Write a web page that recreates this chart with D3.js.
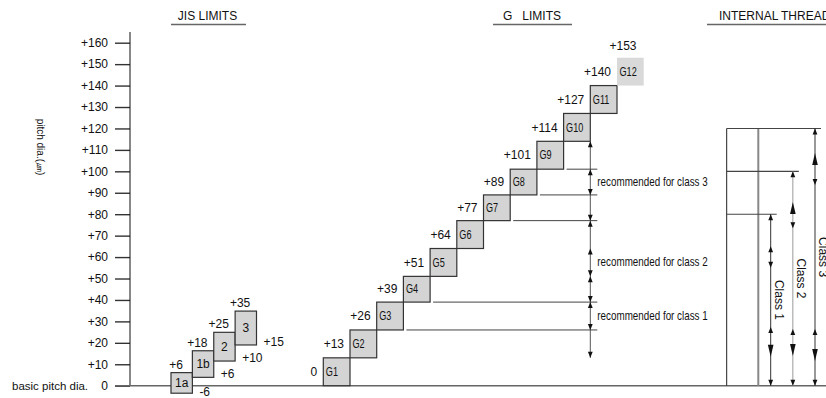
<!DOCTYPE html>
<html><head><meta charset="utf-8">
<script src="https://cdn.jsdelivr.net/npm/d3@7"></script>
<style>
html,body{margin:0;padding:0;background:#fff;}
svg{display:block;font-family:"Liberation Sans",Arial,Helvetica,sans-serif;}
</style></head><body>
<svg id="c" width="826" height="398"></svg>
<script>
// ---------- data ----------
const yTicks = [0,10,20,30,40,50,60,70,80,90,100,110,120,130,140,150,160];
const yTickLabels = ["0","+10","+20","+30","+40","+50","+60","+70","+80","+90","+100","+110","+120","+130","+140","+150","+160"];
const headers = ["JIS LIMITS","G   LIMITS","INTERNAL THREAD"];

const jisNames = ["1a","1b","2","3"];
const jisUpperLabels = ["+6","+18","+25","+35"];
const jisLowerLabels = ["-6","+6","+10","+15"];
// box extents as drawn in the (schematic) picture, in µm on the axis
const jisUpperDrawn = [6.1,16.3,24.9,34.8];
const jisLowerDrawn = [-3.5,3.9,11.5,19.0];

const gNames = ["G1","G2","G3","G4","G5","G6","G7","G8","G9","G10","G11","G12"];
const gLower = [0,13,26,39,51,64,77,89,101,114,127,140];
const gUpper = [13,26,39,51,64,77,89,101,114,127,140,153];
const gLowerLabels = ["0","+13","+26","+39","+51","+64","+77","+89","+101","+114","+127","+140"];
const gTopLabel = "+153";

const recTexts = ["recommended for class 1","recommended for class 2","recommended for class 3"];
const recLow = [26,39,89];
const recHigh = [39,77,101];
const gDimRange = [114,13];
const gDimArrows = [[114,"up"],[101,"up"],[89,"down"],[77,"down"],[77,"up"],[64,"up"],[51,"down"],[51,"up"],[39,"down"],[39,"up"],[26,"down"],[13,"down"]];

const intClasses = ["Class 1","Class 2","Class 3"];
const intUpper = [80,100,120];
// arrow marks along each class dimension line: [value, direction, big]
const intArrows = [
  [[80,"up",0],[65,"up",0],[55,"down",0],[27.4,"up",0],[13.5,"down",1],[0,"down",0]],
  [[100,"up",0],[85.7,"up",1],[73.5,"down",0],[26.4,"up",0],[13.9,"down",1],[0,"down",0]],
  [[120,"up",0],[108.5,"up",1],[93.6,"down",0],[26.4,"up",0],[11.5,"down",1],[0,"down",0]]
];

// ---------- drawing ----------
const svg = d3.select("#c");
const FONT = '"Liberation Sans",Arial,Helvetica,sans-serif';
const y = d3.scaleLinear().domain([0,160]).range([385.7,42.7]);
const axisX = 130;

// axis
const ax = svg.append("g").attr("transform",`translate(${axisX},0)`)
  .call(d3.axisLeft(y).tickValues(yTicks).tickFormat((d,i)=>yTickLabels[i])
    .tickSize(15).tickPadding(7).tickSizeOuter(0));
ax.attr("font-family",FONT).attr("font-size",12);
ax.select(".domain").remove();
ax.selectAll(".tick line").attr("stroke","#333").attr("stroke-width",1.4);
ax.selectAll(".tick text").attr("fill","#111");
svg.append("line").attr("x1",axisX).attr("x2",axisX).attr("y1",32).attr("y2",y(0))
  .attr("stroke","#111").attr("stroke-width",1);

// baseline
svg.append("line").attr("x1",115).attr("x2",826).attr("y1",y(0)).attr("y2",y(0))
  .attr("stroke","#666").attr("stroke-width",1.6);

svg.append("text").attr("x",12).attr("y",y(0)).attr("dy","0.35em")
  .attr("font-size",11.5).attr("fill","#111").text("basic pitch dia.");

svg.append("text").attr("transform",`translate(36.5,147) rotate(90)`)
  .attr("text-anchor","middle").attr("font-size",10).attr("fill","#111")
  .text("pitch dia.(\u339B)");

// headers
const hdr = [
  {x1:171,x2:246,tx:207.5,anchor:"middle"},
  {x1:493,x2:572,tx:532,anchor:"middle"},
  {x1:707,x2:830,tx:719,anchor:"start"}
];
headers.forEach((h,i)=>{
  svg.append("text").attr("x",hdr[i].tx).attr("y",20).attr("text-anchor",hdr[i].anchor)
    .attr("font-size",12).attr("fill","#111").style("white-space","pre").text(h);
  svg.append("line").attr("x1",hdr[i].x1).attr("x2",hdr[i].x2).attr("y1",24.5).attr("y2",24.5)
    .attr("stroke","#666").attr("stroke-width",1.5);
});

function narrowText(g,x,yy,str,size,anchor,sx){
  g.append("text").attr("transform",`translate(${x},${yy}) scale(${sx||0.82},1)`)
    .attr("dy","0.35em").attr("text-anchor",anchor||"start")
    .attr("font-size",size).attr("fill","#111").text(str);
}
function arrow(g,x,v,dir,big){
  const ty=y(v), w=big?2.8:2.4, h=big?12:6, s=dir==="up"?1:-1;
  g.append("path").attr("d",`M${x},${ty}L${x-w},${ty+s*h}L${x+w},${ty+s*h}Z`).attr("fill","#111");
}

// JIS boxes
const xJ = d3.scaleBand().domain(jisNames).range([171,256.5]);
const gJ = svg.append("g");
jisNames.forEach((n,i)=>{
  const x0=xJ(n), bw=xJ.bandwidth(), yt=y(jisUpperDrawn[i]), yb=y(jisLowerDrawn[i]);
  gJ.append("rect").attr("x",x0).attr("y",yt).attr("width",bw).attr("height",yb-yt)
    .attr("fill","#d4d4d4").attr("stroke","#333").attr("stroke-width",1.2);
  gJ.append("text").attr("x",x0+bw/2).attr("y",(yt+yb)/2).attr("dy","0.35em")
    .attr("text-anchor","middle").attr("font-size",12).attr("fill","#111").text(n);
  gJ.append("text").attr("x",x0+5).attr("y",yt-4).attr("text-anchor","middle")
    .attr("font-size",12).attr("fill","#111").text(jisUpperLabels[i]);
  gJ.append("text").attr("x",x0+bw+7).attr("y",yb+(jisLowerDrawn[i]<0?3:1)).attr("text-anchor","start")
    .attr("font-size",12).attr("fill","#111").text(jisLowerLabels[i]);
});

// G boxes
const xG = d3.scaleBand().domain(gNames).range([323.3,643.7]);
const gG = svg.append("g");
gNames.forEach((n,i)=>{
  const x0=xG(n), bw=xG.bandwidth(), yt=y(gUpper[i]), yb=y(gLower[i]);
  const last = i===gNames.length-1;
  gG.append("rect").attr("x",x0).attr("y",yt).attr("width",bw).attr("height",yb-yt)
    .attr("fill",last?"#d9d9d9":"#d4d4d4").attr("stroke",last?"none":"#333").attr("stroke-width",1.2);
  narrowText(gG,x0+2.5,(yt+yb)/2,n,12,"start",0.76);
  gG.append("text").attr("x",x0-6).attr("y",(yt+yb)/2).attr("dy","0.35em").attr("text-anchor","end")
    .attr("font-size",12).attr("fill","#111").text(gLowerLabels[i]);
  if(last){
    gG.append("text").attr("x",x0+6).attr("y",yt-8).attr("text-anchor","middle")
      .attr("font-size",12).attr("fill","#111").text(gTopLabel);
  }
});

// G dimension line + recommended ranges
const dimX = xG("G10")+xG.bandwidth();
const gD = svg.append("g");
gD.append("line").attr("x1",dimX).attr("x2",dimX).attr("y1",y(gDimRange[0])).attr("y2",y(gDimRange[1]))
  .attr("stroke","#555").attr("stroke-width",1);
const extLevels = Array.from(new Set(recLow.concat(recHigh))).sort((a,b)=>a-b);
extLevels.forEach(v=>{
  const idx = gLower.indexOf(v);
  const xs = xG(gNames[idx])+xG.bandwidth()+3;
  gD.append("line").attr("x1",xs).attr("x2",dimX+7).attr("y1",y(v)).attr("y2",y(v))
    .attr("stroke","#444").attr("stroke-width",1);
});
gDimArrows.forEach(a=>arrow(gD,dimX,a[0],a[1],0));
recTexts.forEach((t,i)=>narrowText(gD,dimX+7,y((recLow[i]+recHigh[i])/2),t,12,"start"));

// internal thread
const gI = svg.append("g");
const rectL = 726.7, rectR = 758.3;
const xC = d3.scalePoint().domain(intClasses).range([770.7,815]);
gI.append("line").attr("x1",rectL).attr("x2",rectL).attr("y1",y(d3.max(intUpper))).attr("y2",y(0))
  .attr("stroke","#222").attr("stroke-width",1);
gI.append("line").attr("x1",rectR).attr("x2",rectR).attr("y1",y(d3.max(intUpper))).attr("y2",y(0))
  .attr("stroke","#888").attr("stroke-width",2);
intClasses.forEach((c,i)=>{
  const cx = xC(c);
  gI.append("line").attr("x1",rectL).attr("x2",cx+6).attr("y1",y(intUpper[i])).attr("y2",y(intUpper[i]))
    .attr("stroke","#444").attr("stroke-width",1.1);
  gI.append("line").attr("x1",cx).attr("x2",cx).attr("y1",y(intUpper[i])).attr("y2",y(0))
    .attr("stroke",i===1?"#999":"#333").attr("stroke-width",1);
  intArrows[i].forEach(a=>arrow(gI,cx,a[0],a[1],a[2]));
  gI.append("text").attr("transform",`translate(${cx+4},${y(intUpper[i]/2)}) rotate(90)`)
    .attr("text-anchor","middle").attr("font-size",12).attr("fill","#111").text(c);
});
</script>
</body></html>
